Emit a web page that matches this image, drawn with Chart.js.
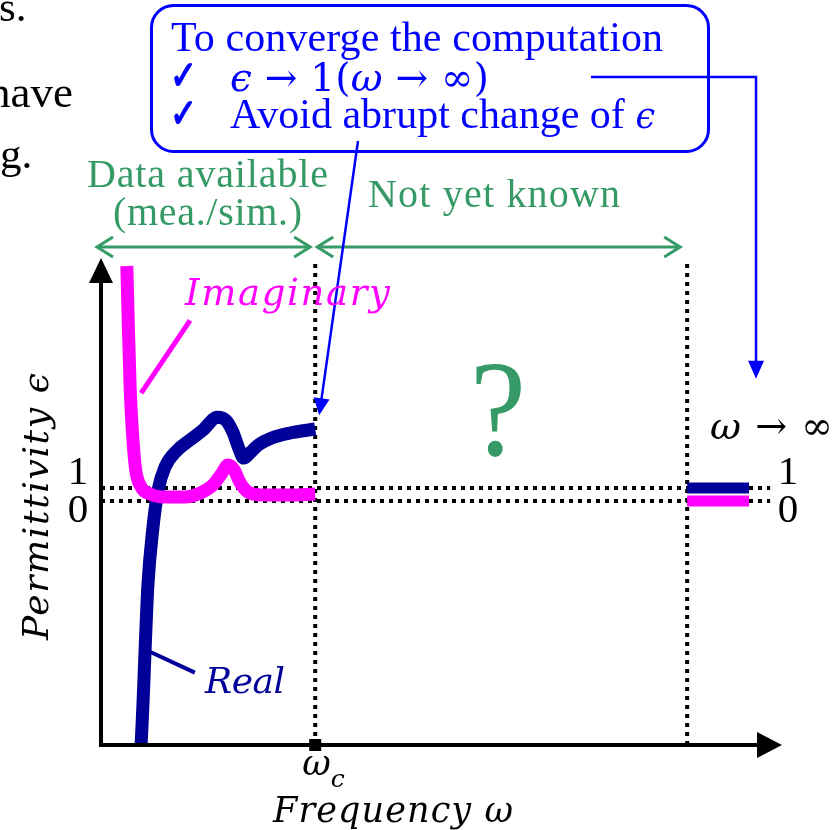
<!DOCTYPE html>
<html>
<head>
<meta charset="utf-8">
<script src="https://cdn.jsdelivr.net/npm/chart.js@4.4.1/dist/chart.umd.min.js"></script>
<style>
  body { margin: 0; background: #fff; }
  #wrap { position: relative; width: 840px; height: 830px; overflow: hidden; }
  #plot { position: absolute; left: 0; top: 0; }
  #ann { position: absolute; left: 0; top: 0; pointer-events: none; }
</style>
</head>
<body>
<div id="wrap">
  <canvas id="plot" width="840" height="830"></canvas>
  <svg id="ann" width="840" height="830" xmlns="http://www.w3.org/2000/svg">
    <!-- bits of slide text cut by the left edge -->
    <text x="-1" y="21" font-family="Liberation Serif" font-size="43" fill="#000">s.</text>
    <text x="-12" y="107" font-family="Liberation Serif" font-size="45" fill="#000">have</text>
    <text x="0" y="168" font-family="Liberation Serif" font-size="43" fill="#000">g.</text>

    <!-- blue note box -->
    <rect x="151.5" y="5.5" width="557" height="146" rx="22" fill="none" stroke="#0000FF" stroke-width="3"/>
    <text x="171" y="51" font-family="Liberation Serif" font-size="42" fill="#0000FF" textLength="492" lengthAdjust="spacing">To converge the computation</text>
    <text x="170" y="89" font-family="DejaVu Sans" font-size="40" fill="#0000FF" stroke="#0000FF" stroke-width="1.5" textLength="27" lengthAdjust="spacingAndGlyphs">✓</text>
    <text x="230" y="91" font-family="DejaVu Serif" font-size="39" fill="#0000FF" textLength="259" lengthAdjust="spacing"><tspan font-style="italic">ϵ</tspan> → 1(<tspan font-style="italic">ω</tspan> → ∞)</text>
    <text x="170" y="127" font-family="DejaVu Sans" font-size="40" fill="#0000FF" stroke="#0000FF" stroke-width="1.5" textLength="27" lengthAdjust="spacingAndGlyphs">✓</text>
    <text x="230" y="128" font-family="Liberation Serif" font-size="42" fill="#0000FF" textLength="425" lengthAdjust="spacing">Avoid abrupt change of <tspan font-family="DejaVu Serif" font-style="italic" font-size="35">ϵ</tspan></text>

    <!-- green region labels -->
    <text x="87" y="187" font-family="Liberation Serif" font-size="40" fill="#359A66" textLength="241" lengthAdjust="spacing">Data available</text>
    <text x="113" y="225" font-family="Liberation Serif" font-size="40" fill="#359A66" textLength="189" lengthAdjust="spacing">(mea./sim.)</text>
    <text x="368" y="207" font-family="Liberation Serif" font-size="40" fill="#359A66" textLength="252" lengthAdjust="spacing">Not yet known</text>
    <text x="470" y="455" font-family="Liberation Serif" font-size="138" fill="#359A66" textLength="56" lengthAdjust="spacingAndGlyphs">?</text>

    <!-- curve names -->
    <text x="185" y="305" font-family="DejaVu Serif" font-style="italic" font-size="37" fill="#FF00FF" textLength="205" lengthAdjust="spacing">Imaginary</text>
    <text x="205" y="693" font-family="DejaVu Serif" font-style="italic" font-size="36" fill="#000099" textLength="80" lengthAdjust="spacing">Real</text>

    <!-- axis titles -->
    <text transform="translate(48,640) rotate(-90)" font-family="DejaVu Serif" font-style="italic" font-size="36" fill="#000" textLength="267" lengthAdjust="spacing">Permittivity ϵ</text>
    <text x="273" y="822" font-family="DejaVu Serif" font-style="italic" font-size="35" fill="#000" textLength="240" lengthAdjust="spacing">Frequency ω</text>
    <text x="710" y="439" font-family="DejaVu Serif" font-size="38" fill="#000" textLength="123" lengthAdjust="spacing"><tspan font-style="italic">ω</tspan> → ∞</text>
  </svg>
</div>
<script>
// frequency axis runs 0..10 (arbitrary units), permittivity in units of 1
const realFreq = [0.59, 0.62, 0.65, 0.69, 0.76, 0.84, 0.94, 1.12, 1.31, 1.50, 1.71, 1.84, 1.94, 2.03, 2.10, 2.19, 2.31, 2.51, 2.78, 3.15];
const realEps  = [-18.77, -15.3, -11.23, -6.46, -2.23, 0.85, 2.6, 3.9, 4.7, 5.46, 6.45, 6.2, 5.3, 4.0, 3.3, 3.7, 4.3, 4.85, 5.23, 5.54];

const imagFreq = [0.38, 0.40, 0.43, 0.47, 0.51, 0.59, 0.72, 0.94, 1.24, 1.46, 1.63, 1.76, 1.87, 1.96, 2.04, 2.16, 2.37, 2.78, 3.15];
const imagEps  = [18.08, 13.9, 8.5, 4.7, 2.4, 1.08, 0.54, 0.31, 0.31, 0.62, 1.15, 2.0, 2.77, 2.38, 1.46, 0.69, 0.46, 0.46, 0.54];

const omegaC = 3.15;      // end of measured / simulated data
const omegaInf = 8.62;    // stands for omega -> infinity
const infEnd = 9.53;
const realInf = 1;
const imagInf = 0;

const yTicks = [1, 0];
const yTickLabels = ["1", "0"];
const xMin = 0, xMax = 10;
const yMin = -18.77, yMax = 18.54;
const guideEnd = 9.84;

const NAVY = "#000099", MAGENTA = "#FF00FF", BLUE = "#0000FF", GREEN = "#359A66";

const pts = (xs, ys) => xs.map((x, i) => ({ x: x, y: ys[i] }));

function dotted(data) {
  return {
    data: data, borderColor: "#000", borderWidth: 4, borderDash: [4, 5],
    pointRadius: 0, tension: 0, order: 5, clip: false,
  };
}

function arrowHead(ctx, tx, ty, ang, len, half) {
  ctx.beginPath();
  ctx.moveTo(tx, ty);
  ctx.lineTo(tx - len * Math.cos(ang) - half * Math.sin(ang), ty - len * Math.sin(ang) + half * Math.cos(ang));
  ctx.lineTo(tx - len * Math.cos(ang) + half * Math.sin(ang), ty - len * Math.sin(ang) - half * Math.cos(ang));
  ctx.closePath();
  ctx.fill();
}

function chevron(ctx, tx, ty, dir) {
  ctx.beginPath();
  ctx.moveTo(tx - dir * 16, ty - 10);
  ctx.lineTo(tx, ty);
  ctx.lineTo(tx - dir * 16, ty + 10);
  ctx.stroke();
}

const decor = {
  id: "decor",
  afterDatasetsDraw(chart) {
    const { ctx, chartArea: a, scales } = chart;
    const xs = (v) => scales.x.getPixelForValue(v);
    const ys = (v) => scales.y.getPixelForValue(v);
    ctx.save();

    // axes with arrow heads
    ctx.strokeStyle = "#000";
    ctx.fillStyle = "#000";
    ctx.lineWidth = 4;
    ctx.beginPath();
    ctx.moveTo(a.left, a.bottom + 2);
    ctx.lineTo(a.left, a.top + 20);
    ctx.moveTo(a.left - 2, a.bottom);
    ctx.lineTo(a.right - 20, a.bottom);
    ctx.stroke();
    arrowHead(ctx, a.left, a.top - 2, -Math.PI / 2, 25, 12);
    arrowHead(ctx, a.right + 1, a.bottom, 0, 25, 13);

    // leader lines for curve names
    ctx.lineWidth = 5;
    ctx.strokeStyle = MAGENTA;
    ctx.beginPath();
    ctx.moveTo(xs(0.59), ys(8.3));
    ctx.lineTo(xs(1.31), ys(13.9));
    ctx.stroke();
    ctx.lineWidth = 4;
    ctx.strokeStyle = NAVY;
    ctx.beginPath();
    ctx.moveTo(xs(0.72), ys(-11.6));
    ctx.lineTo(xs(1.38), ys(-13.2));
    ctx.stroke();

    // green range arrows
    const gy = a.top - 13;
    ctx.strokeStyle = GREEN;
    ctx.lineWidth = 3;
    ctx.beginPath();
    ctx.moveTo(xs(xMin) - 4, gy);
    ctx.lineTo(xs(omegaC) - 5, gy);
    ctx.moveTo(xs(omegaC) + 2, gy);
    ctx.lineTo(xs(omegaInf) - 7, gy);
    ctx.stroke();
    chevron(ctx, xs(xMin) - 4, gy, -1);
    chevron(ctx, xs(omegaC) - 5, gy, 1);
    chevron(ctx, xs(omegaC) + 2, gy, -1);
    chevron(ctx, xs(omegaInf) - 7, gy, 1);

    // blue pointers from the note box
    ctx.strokeStyle = BLUE;
    ctx.fillStyle = BLUE;
    ctx.lineWidth = 2.5;
    const tipAx = xs(omegaC) + 4, tipAy = ys(6.6);
    const angA = Math.atan2(tipAy - 141, tipAx - 358);
    ctx.beginPath();
    ctx.moveTo(358, 141);
    ctx.lineTo(tipAx - 14 * Math.cos(angA), tipAy - 14 * Math.sin(angA));
    ctx.stroke();
    arrowHead(ctx, tipAx, tipAy, angA, 17, 8);

    const bx = xs(infEnd) + 7, tipBy = ys(9.4);
    ctx.beginPath();
    ctx.moveTo(591, 77);
    ctx.lineTo(bx, 77);
    ctx.lineTo(bx, tipBy - 14);
    ctx.stroke();
    arrowHead(ctx, bx, tipBy, Math.PI / 2, 18, 8);

    ctx.restore();
  },
};

const chart = new Chart(document.getElementById("plot"), {
  type: "line",
  data: {
    datasets: [
      dotted([{ x: xMin, y: 1 }, { x: guideEnd, y: 1 }]),
      dotted([{ x: xMin, y: 0 }, { x: guideEnd, y: 0 }]),
      dotted([{ x: omegaC, y: yMin }, { x: omegaC, y: yMax }]),
      dotted([{ x: omegaInf, y: yMin }, { x: omegaInf, y: yMax }]),
      {
        label: "Real",
        data: pts(realFreq, realEps),
        borderColor: NAVY, borderWidth: 13, pointRadius: 0,
        cubicInterpolationMode: "monotone", order: 3,
      },
      {
        label: "Imaginary",
        data: pts(imagFreq, imagEps),
        borderColor: MAGENTA, borderWidth: 13, pointRadius: 0,
        cubicInterpolationMode: "monotone", order: 2,
      },
      {
        label: "Real (inf)",
        data: [{ x: omegaInf, y: realInf }, { x: infEnd, y: realInf }],
        borderColor: NAVY, borderWidth: 11, pointRadius: 0, order: 2,
      },
      {
        label: "Imaginary (inf)",
        data: [{ x: omegaInf, y: imagInf }, { x: infEnd, y: imagInf }],
        borderColor: MAGENTA, borderWidth: 11, pointRadius: 0, order: 2,
      },
      {
        label: "omega_c",
        data: [{ x: omegaC, y: yMin }],
        showLine: false, pointStyle: "rect", pointRadius: 8.5,
        backgroundColor: "#000", borderColor: "#000", borderWidth: 0, order: 0, clip: false,
      },
    ],
  },
  options: {
    responsive: false,
    animation: false,
    events: [],
    layout: { padding: { left: 101, right: 59, top: 260, bottom: 85 } },
    scales: {
      x: { type: "linear", min: xMin, max: xMax, display: false },
      y: { type: "linear", min: yMin, max: yMax, display: false },
    },
    plugins: { legend: { display: false }, tooltip: { enabled: false } },
  },
  plugins: [decor],
});

// tick labels and omega_c label, placed through the scales
const svg = document.getElementById("ann");
function addText(str, x, y, size, anchor, style) {
  const t = document.createElementNS("http://www.w3.org/2000/svg", "text");
  t.setAttribute("x", x);
  t.setAttribute("y", y);
  t.setAttribute("font-family", style ? "DejaVu Serif" : "Liberation Serif");
  if (style) t.setAttribute("font-style", style);
  t.setAttribute("font-size", size);
  t.setAttribute("text-anchor", anchor);
  t.setAttribute("fill", "#000");
  t.textContent = str;
  svg.appendChild(t);
  return t;
}
const sx = chart.scales.x, sy = chart.scales.y;
yTicks.forEach((v, i) => {
  const base = i === 0 ? sy.getPixelForValue(v) - 4 : sy.getPixelForValue(v) + 21;
  addText(yTickLabels[i], chart.chartArea.left - 23, base, 41, "middle");
  addText(yTickLabels[i], sx.getPixelForValue(infEnd) + 39, base, 41, "middle");
});
const wc = addText("ω", sx.getPixelForValue(omegaC) - 13, 775, 35, "start", "italic");
const wcSub = document.createElementNS("http://www.w3.org/2000/svg", "tspan");
wcSub.setAttribute("font-size", "25");
wcSub.setAttribute("dy", "12");
wcSub.textContent = "c";
wc.appendChild(wcSub);
</script>
</body>
</html>
